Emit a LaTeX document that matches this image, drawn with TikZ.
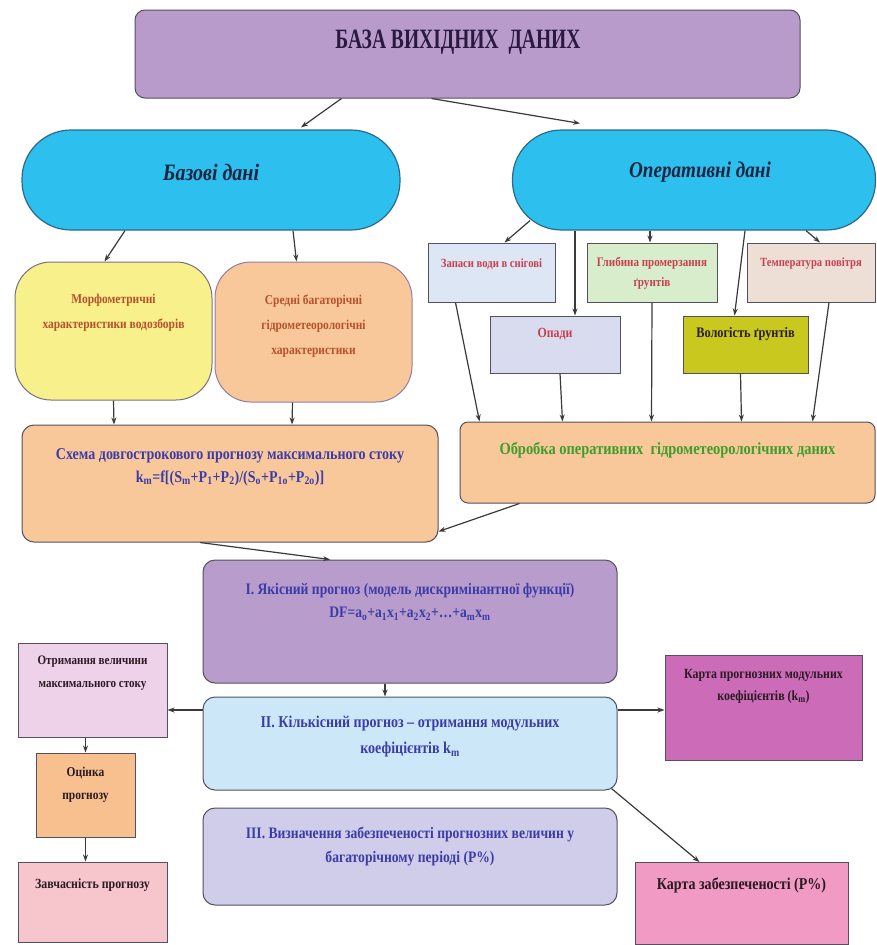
\documentclass[tikz,border=0pt]{standalone}
\usepackage{fontspec}
\usepackage{graphicx}
\setmainfont{Liberation Serif}[FakeStretch=0.85]
\usetikzlibrary{arrows.meta,calc}
\definecolor{bord}{HTML}{55505E}
\definecolor{arrc}{HTML}{3A3A3A}
\definecolor{topF}{HTML}{B99BCB}
\definecolor{ovalF}{HTML}{2DBFEE}
\definecolor{ovalB}{HTML}{2B6A8A}
\definecolor{yelF}{HTML}{F8F08A}
\definecolor{orF}{HTML}{F9C89A}
\definecolor{zapF}{HTML}{DCE6F4}
\definecolor{glyF}{HTML}{D8EDCC}
\definecolor{tmpF}{HTML}{EEDFD6}
\definecolor{opaF}{HTML}{D9DCEF}
\definecolor{volF}{HTML}{C9C81E}
\definecolor{IF}{HTML}{B89CCC}
\definecolor{IIF}{HTML}{CCE8F8}
\definecolor{IIIF}{HTML}{CFCDEA}
\definecolor{otrF}{HTML}{EED2EA}
\definecolor{ocF}{HTML}{F8C08E}
\definecolor{zavF}{HTML}{F6C6CC}
\definecolor{k1F}{HTML}{CC6CB8}
\definecolor{k2F}{HTML}{F09AC4}
\definecolor{txTop}{HTML}{2A1A40}
\definecolor{txOv}{HTML}{1A2440}
\definecolor{txRed}{HTML}{C8404E}
\definecolor{txBrn}{HTML}{B8502E}
\definecolor{txBlue}{HTML}{3C3CA8}
\definecolor{txGrn}{HTML}{3E9E2A}
\definecolor{txDark}{HTML}{2A1A22}
\newcommand\fsz[2]{\fontsize{#1}{#2}\selectfont}
\begin{document}
\begin{tikzpicture}[x=1pt,y=-1pt,
  bx/.style={draw=bord, line width=1pt, inner sep=0pt},
  rbox/.style={bx, rounded corners=10pt},
  oval/.style={draw=ovalB, line width=1.2pt, fill=ovalF, rounded corners=49pt, inner sep=0pt},
  lbl/.style={align=center, inner sep=0pt},
  arr/.style={draw=arrc, line width=1.2pt, -{Stealth[length=7pt,width=5pt]}}]
\useasboundingbox[fill=white] (0,0) rectangle (877,945);

% boxes
\node[rbox, fill=topF, minimum width=665pt, minimum height=88pt] (top) at (467.5,54) {};
\node[oval, minimum width=378pt, minimum height=100pt] (baz) at (211,180) {};
\node[oval, minimum width=363pt, minimum height=100pt] (oper) at (694,180) {};
\node[bx, fill=yelF, rounded corners=36pt, draw=bord!80, minimum width=197pt, minimum height=138pt] (yel) at (113.5,331) {};
\node[bx, fill=orF, rounded corners=36pt, draw=IF!80!black, minimum width=197pt, minimum height=140pt] (ora) at (313.5,332) {};
\node[bx, fill=zapF, minimum width=127pt, minimum height=59pt] (zap) at (491.5,272.5) {};
\node[bx, fill=glyF, minimum width=130pt, minimum height=59pt] (gly) at (652,272.5) {};
\node[bx, fill=tmpF, minimum width=128pt, minimum height=59pt] (tmp) at (811,272.5) {};
\node[bx, fill=opaF, minimum width=130pt, minimum height=57pt] (opa) at (555,344.5) {};
\node[bx, fill=volF, minimum width=125pt, minimum height=57pt] (vol) at (745.5,344.5) {};
\node[rbox, fill=orF, rounded corners=8pt, minimum width=415pt, minimum height=81pt] (obr) at (667.5,462.5) {};
\node[rbox, fill=orF, rounded corners=12pt, minimum width=416pt, minimum height=117pt] (sch) at (230,483.5) {};
\node[rbox, fill=IF, rounded corners=12pt, minimum width=414pt, minimum height=123pt] (one) at (410,621.5) {};
\node[rbox, fill=IIF, rounded corners=12pt, minimum width=414pt, minimum height=93pt] (two) at (410,743.5) {};
\node[rbox, fill=IIIF, rounded corners=12pt, minimum width=414pt, minimum height=97pt] (three) at (410,856.5) {};
\node[bx, fill=otrF, minimum width=149pt, minimum height=94pt] (otr) at (92.5,690) {};
\node[bx, fill=ocF, minimum width=99pt, minimum height=84pt] (oc) at (85.5,795) {};
\node[bx, fill=zavF, minimum width=149pt, minimum height=80pt] (zav) at (92.5,902) {};
\node[bx, fill=k1F, minimum width=197pt, minimum height=105pt] (k1) at (763.5,707.5) {};
\node[bx, fill=k2F, minimum width=213pt, minimum height=82pt] (k2) at (741.5,903.5) {};

% texts
\node[lbl, text=txTop, font=\bfseries\fsz{28}{32}] (topT) at (458,42) {\scalebox{0.82}[1]{БАЗА ВИХІДНИХ\ \ ДАНИХ}};
\node[lbl, text=txOv, font=\bfseries\itshape\fsz{23.5}{26}] (bazT) at (211,172) {Базові дані};
\node[lbl, text=txOv, font=\bfseries\itshape\fsz{22.5}{26}] (operT) at (700,172) {Оперативні дані};
\node[lbl, text=txBrn, font=\bfseries\fsz{13.5}{25}] (yelT) at (113.5,313) {Морфометричні\\характеристики водозборів};
\node[lbl, text=txBrn, font=\bfseries\fsz{13.5}{25}] (oraT) at (313.5,326) {Средні багаторічні\\гідрометеорологічні\\характеристики};
\node[lbl, text=txRed, font=\bfseries\fsz{12.5}{20}] (zapT) at (491.5,264) {Запаси води в снігові};
\node[lbl, text=txRed, font=\bfseries\fsz{13}{20}] (glyT) at (652,273) {Глибина промерзання\\ґрунтів};
\node[lbl, text=txRed, font=\bfseries\fsz{12.5}{20}] (tmpT) at (811,264) {Температура повітря};
\node[lbl, text=txRed, font=\bfseries\fsz{14}{20}] (opaT) at (555,334) {Опади};
\node[lbl, text=txDark, font=\bfseries\fsz{14.5}{20}] (volT) at (745.5,334) {Вологість ґрунтів};
\node[lbl, text=txGrn, font=\bfseries\fsz{17}{20}] (obrT) at (667.5,450) {Обробка оперативних\ \ гідрометеорологічних даних};
\node[lbl, text=txBlue, font=\bfseries\fsz{16.5}{23}] (schT) at (230,467) {Схема довгострокового прогнозу максимального стоку\\k\textsubscript{m}=f[(S\textsubscript{m}+P\textsubscript{1}+P\textsubscript{2})/(S\textsubscript{o}+P\textsubscript{1o}+P\textsubscript{2o})]};
\node[lbl, text=txBlue, font=\bfseries\fsz{16}{23}] (oneT) at (410,602) {I. Якісний прогноз (модель дискримінантної функції)\\DF=a\textsubscript{o}+a\textsubscript{1}x\textsubscript{1}+a\textsubscript{2}x\textsubscript{2}+…+a\textsubscript{m}x\textsubscript{m}};
\node[lbl, text=txBlue, font=\bfseries\fsz{16.5}{26}] (twoT) at (410,737) {II. Кількісний прогноз – отримання модульних\\коефіцієнтів k\textsubscript{m}};
\node[lbl, text=txBlue, font=\bfseries\fsz{16}{24}] (threeT) at (410,846) {III. Визначення забезпеченості прогнозних величин у\\багаторічному періоді (P\%)};
\node[lbl, text=txDark, font=\bfseries\fsz{13}{23}] (otrT) at (92.5,673) {Отримання величини\\максимального стоку};
\node[lbl, text=txDark, font=\bfseries\fsz{13.5}{23}] (ocT) at (85.5,785) {Оцінка\\прогнозу};
\node[lbl, text=txDark, font=\bfseries\fsz{14}{20}] (zavT) at (92.5,885) {Завчасність прогнозу};
\node[lbl, text=txDark, font=\bfseries\fsz{14}{22}] (k1T) at (763.5,686) {Карта прогнозних модульних\\коефіцієнтів (k\textsubscript{m})};
\node[lbl, text=txDark, font=\bfseries\fsz{16.5}{20}] (k2T) at (741.5,885) {Карта забезпеченості (P\%)};

% connectors
\draw[arr] ([xshift=-126pt]top.south) -- ([xshift=90pt,yshift=2pt]baz.north);
\draw[arr] ([xshift=-36pt]top.south) -- ([xshift=-114pt,yshift=6pt]oper.north);
\draw[arr] ([xshift=-86pt]baz.south) -- ([xshift=-9pt]yel.north);
\draw[arr] ([xshift=82pt]baz.south) -- ([xshift=-17pt]ora.north);
\draw[arr] ([xshift=-164pt,yshift=10pt]oper.south) -- ([xshift=13pt]zap.north);
\draw[arr] ([xshift=-119pt]oper.south) -- ([xshift=20pt]opa.north);
\draw[arr] ([xshift=-44pt]oper.south) -- ([xshift=-2pt]gly.north);
\draw[arr] ([xshift=51pt]oper.south) -- ([xshift=-11pt]vol.north);
\draw[arr] ([xshift=112pt]oper.south) -- ([xshift=9pt]tmp.north);
\draw[arr] ([xshift=-36pt]zap.south) -- ([xshift=-188pt]obr.north);
\draw[arr] ([xshift=5pt]opa.south) -- ([xshift=-105pt]obr.north);
\draw[arr] (gly.south) -- ([xshift=-16pt]obr.north);
\draw[arr] ([xshift=-5pt]vol.south) -- ([xshift=74pt]obr.north);
\draw[arr] ([xshift=18pt]tmp.south) -- ([xshift=145pt]obr.north);
\draw[arr] ([xshift=0pt]yel.south) -- ([xshift=-116pt]sch.north);
\draw[arr] ([xshift=-21pt]ora.south) -- ([xshift=62pt]sch.north);
\draw[arr] ([xshift=-148pt]obr.south) -- ([yshift=-48pt]sch.east);
\draw[arr] ([xshift=-30pt]sch.south) -- ([xshift=-80pt]one.north);
\draw[arr] ([xshift=-25pt]one.south) -- ([xshift=-25pt]two.north);
\draw[arr] ([yshift=33.5pt]two.west) -- ([yshift=-20pt]otr.east);
\draw[arr] ([yshift=33.5pt]two.east) -- ([yshift=-2.5pt]k1.west);
\draw[arr] ([xshift=-7pt]otr.south) -- (oc.north);
\draw[arr] (oc.south) -- ([xshift=-7pt]zav.north);
\draw[arr] ([xshift=-6pt,yshift=2pt]two.south east) -- ([xshift=-42pt]k2.north);
\end{tikzpicture}
\end{document}
